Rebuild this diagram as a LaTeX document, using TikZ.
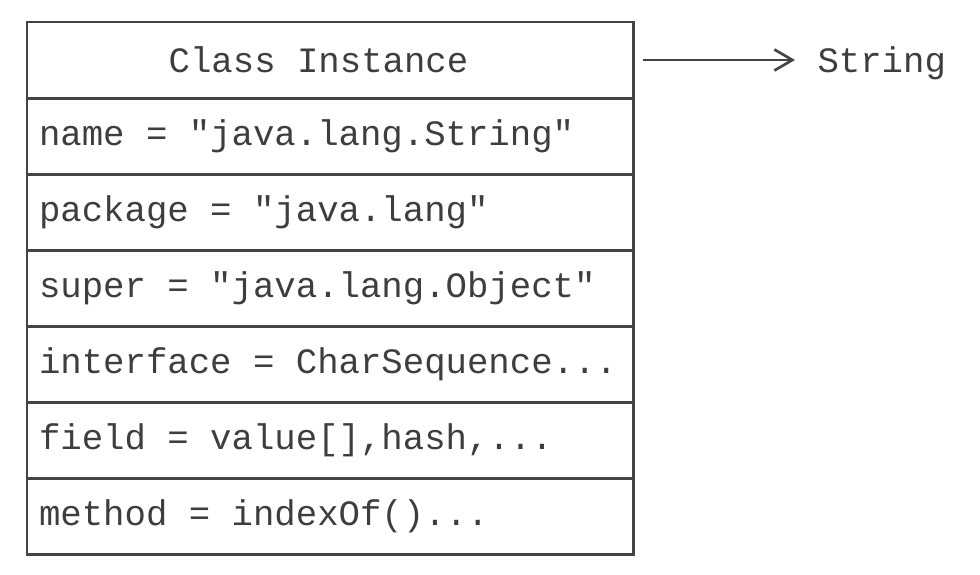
\documentclass[tikz,border=0pt]{standalone}
\usepackage{fontspec}
\setmonofont{Liberation Mono}
\usetikzlibrary{positioning,arrows.meta}
\definecolor{linegray}{RGB}{68,68,68}
\definecolor{textgray}{RGB}{62,62,62}
\newcommand\javafont{\ttfamily\fontsize{20.3}{24}\selectfont}
\begin{document}
\begin{tikzpicture}[node distance = 0pt, line width=1.7pt, color=linegray,
    mono/.style={text=textgray, font=\javafont},
    row/.style={mono, draw=linegray, minimum width=12.12cm, minimum height=1.52cm,
        outer sep=0pt, inner sep=0pt, text width=11.64cm, align=flush left}]%
    \useasboundingbox (0,0) rectangle (19.6,-11.48);
    \node (1) [row, align=flush center] at (6.6,-1.2) {Class Instance\hspace*{0.46cm}};
    \node (2) [row, below=of 1] {name = "java.lang.String"};
    \node (3) [row, below=of 2] {package = "java.lang"};
    \node (4) [row, below=of 3] {super = "java.lang.Object"};
    \node (5) [row, below=of 4] {interface = CharSequence...};
    \node (6) [row, below=of 5] {field = value[],hash,...};
    \node (7) [row, below=of 6] {method = indexOf()...};
    \node (8) [mono, anchor=base west, inner sep=0pt] at ([xshift=3.66cm]1.base east) {String};
    \draw[-{Straight Barb[length=0.36cm,width=0.42cm]}, line width=1.5pt, shorten >=0.42cm]
        ([xshift=0.2cm]1.east) -- (8.west |- 1.east);
\end{tikzpicture}
\end{document}
